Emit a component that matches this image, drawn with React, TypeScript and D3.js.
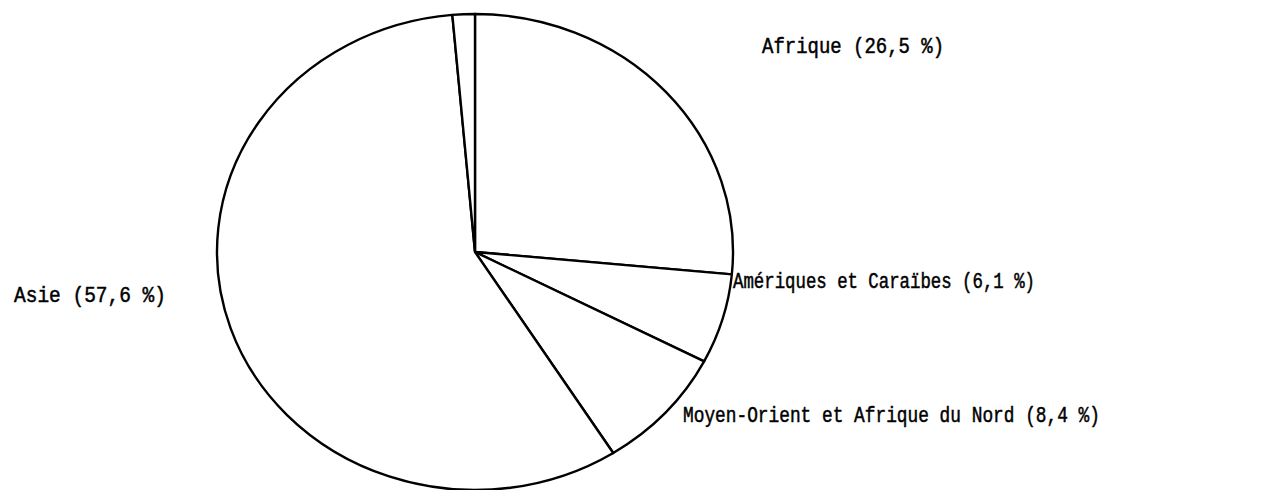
import React from "react";
import * as d3 from "d3";

const regions = [
  "Afrique",
  "Amériques et Caraïbes",
  "Moyen-Orient et Afrique du Nord",
  "Asie",
  "Autres",
];
const shares = [26.5, 6.1, 8.4, 57.6, 1.4];
const labelTexts = [
  "Afrique (26,5 %)",
  "Amériques et Caraïbes (6,1 %)",
  "Moyen-Orient et Afrique du Nord (8,4 %)",
  "Asie (57,6 %)",
  "",
];

const W = 1262;
const H = 490;
const cx = 475;
const cy = 252;
const rx = 258;
const ry = 238;

// label placement (x, baseline y, target width)
const labelPos: [number, number, number][] = [
  [762, 53, 182],
  [733, 288, 302],
  [683, 422, 417],
  [14, 302, 152],
  [0, 0, 0],
];

export default function App() {
  const data = regions.map((r, i) => ({ region: r, value: shares[i], label: labelTexts[i] }));
  const pie = d3.pie<any>().sort(null).value((d) => d.value).startAngle(0).endAngle(2 * Math.PI);
  const arcs = pie(data);
  const arc = d3.arc<any>().innerRadius(0).outerRadius(rx);
  const sy = ry / rx;
  const font = "'Liberation Mono', 'DejaVu Sans Mono', monospace";
  return (
    <svg
      width={W}
      height={H}
      style={{ position: "absolute", left: 0, top: 0, background: "#fff" }}
    >
      <rect width={W} height={H} fill="#fff" />
      <g transform={`translate(${cx},${cy}) scale(1,${sy})`}>
        {arcs.map((a, i) => (
          <path
            key={i}
            d={arc(a) as string}
            fill="#fff"
            stroke="#000"
            strokeWidth={2.4}
            strokeLinejoin="round"
            vectorEffect="non-scaling-stroke"
          />
        ))}
      </g>
      {data.map((d, i) =>
        d.label ? (
          <text
            key={i}
            x={labelPos[i][0]}
            y={labelPos[i][1]}
            textLength={labelPos[i][2]}
            lengthAdjust="spacingAndGlyphs"
            fontFamily={font}
            fontSize={22}
            fill="#000"
            stroke="#000"
            strokeWidth={0.5}
          >
            {d.label}
          </text>
        ) : null
      )}
    </svg>
  );
}
